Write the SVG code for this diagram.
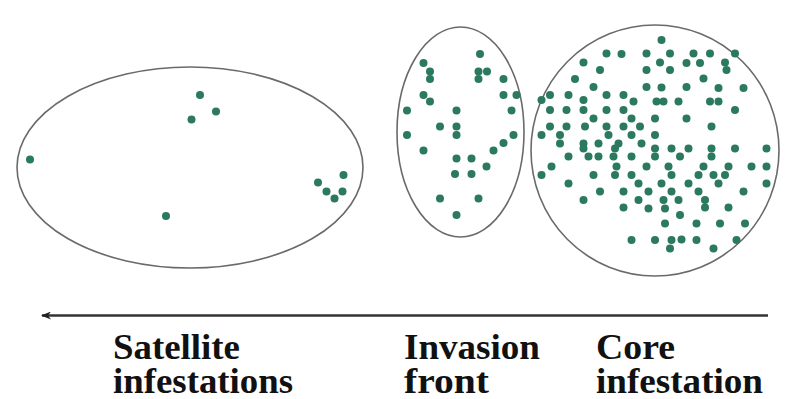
<svg xmlns="http://www.w3.org/2000/svg" width="786" height="399" viewBox="0 0 786 399">
<style>
.outline{fill:none;stroke:#6a6a6a;stroke-width:1.6}
.dots circle{fill:#2b7a60}
.lbl{font-family:'Liberation Serif','DejaVu Serif','Times New Roman',serif;font-weight:700;font-size:36px;fill:#111}
</style>
<defs>
<marker id="ah" viewBox="0 0 10 8" refX="9" refY="4" markerWidth="10" markerHeight="8" markerUnits="userSpaceOnUse" orient="auto">
<path d="M0,0 L10,4 L0,8 L3,4 Z" fill="#222"/>
</marker>
</defs>
<rect width="786" height="399" fill="#fff"/>
<g id="satellite">
<ellipse class="outline" cx="190" cy="167.5" rx="173" ry="100.5"/>
<g class="dots">
<circle cx="200" cy="95" r="4"/><circle cx="216" cy="111.5" r="4"/><circle cx="191.5" cy="119.5" r="4"/>
<circle cx="30" cy="159.5" r="4"/><circle cx="166" cy="216" r="4"/>
<circle cx="318" cy="182.5" r="4"/><circle cx="343.5" cy="175" r="4"/><circle cx="326.5" cy="191.5" r="4"/><circle cx="342.5" cy="191.5" r="4"/><circle cx="334.5" cy="198.5" r="4"/>
</g>
</g>
<g id="front">
<ellipse class="outline" cx="460.5" cy="132" rx="63.5" ry="105"/>
<g class="dots">
<circle cx="480" cy="54" r="4"/><circle cx="423.5" cy="63" r="4"/><circle cx="430" cy="71.5" r="4"/><circle cx="430" cy="79" r="4"/>
<circle cx="478.5" cy="71.5" r="4"/><circle cx="487" cy="71.5" r="4"/><circle cx="478.5" cy="79" r="4"/><circle cx="503.5" cy="79" r="4"/>
<circle cx="423.5" cy="95" r="4"/><circle cx="430" cy="101.5" r="4"/><circle cx="503.5" cy="95" r="4"/><circle cx="516.5" cy="95" r="4"/>
<circle cx="407" cy="110.5" r="4"/><circle cx="456.5" cy="110.5" r="4"/><circle cx="511.5" cy="110.5" r="4"/>
<circle cx="440" cy="126.5" r="4"/><circle cx="456.5" cy="126.5" r="4"/><circle cx="456.5" cy="135" r="4"/>
<circle cx="407" cy="135" r="4"/><circle cx="513.5" cy="135" r="4"/><circle cx="503.5" cy="143" r="4"/><circle cx="493.5" cy="150.5" r="4"/>
<circle cx="423.5" cy="150.5" r="4"/><circle cx="456.5" cy="158.5" r="4"/><circle cx="471.5" cy="158.5" r="4"/><circle cx="486.5" cy="166.5" r="4"/>
<circle cx="455" cy="174" r="4"/><circle cx="471.5" cy="174" r="4"/><circle cx="440" cy="198.5" r="4"/><circle cx="478.5" cy="198.5" r="4"/>
<circle cx="456.5" cy="215" r="4"/>
</g>
</g>
<g id="core">
<ellipse class="outline" cx="655" cy="150.5" rx="124" ry="125.5"/>
<g class="dots">
<circle cx="661.5" cy="40" r="4"/>
<circle cx="606.5" cy="53.5" r="4"/><circle cx="621.5" cy="54" r="4"/><circle cx="646.5" cy="53.5" r="4"/><circle cx="670" cy="53.5" r="4"/><circle cx="693.5" cy="53.5" r="4"/><circle cx="710" cy="53.5" r="4"/><circle cx="735" cy="53.5" r="4"/>
<circle cx="583.5" cy="62.5" r="4"/><circle cx="660" cy="62.5" r="4"/><circle cx="686.5" cy="63" r="4"/><circle cx="700" cy="63" r="4"/><circle cx="725" cy="62.5" r="4"/>
<circle cx="600" cy="70" r="4"/><circle cx="646.5" cy="70" r="4"/><circle cx="670" cy="70" r="4"/><circle cx="726.5" cy="70" r="4"/>
<circle cx="575" cy="79" r="4"/><circle cx="703.5" cy="78.5" r="4"/>
<circle cx="593.5" cy="87" r="4"/><circle cx="646.5" cy="87" r="4"/><circle cx="661.5" cy="87.5" r="4"/><circle cx="686.5" cy="87" r="4"/><circle cx="718.5" cy="88" r="4"/><circle cx="743.5" cy="88" r="4"/>
<circle cx="550" cy="95" r="4"/><circle cx="568.5" cy="95" r="4"/><circle cx="606.5" cy="95" r="4"/><circle cx="623.5" cy="95" r="4"/>
<circle cx="541.5" cy="100" r="4"/><circle cx="583.5" cy="100" r="4"/>
<circle cx="633.5" cy="101.5" r="4"/><circle cx="656.5" cy="101.5" r="4"/><circle cx="663.5" cy="101.5" r="4"/><circle cx="678.5" cy="101.5" r="4"/><circle cx="710" cy="101.5" r="4"/><circle cx="718.5" cy="101.5" r="4"/>
<circle cx="550" cy="110" r="4"/><circle cx="566.5" cy="110" r="4"/><circle cx="583.5" cy="110" r="4"/><circle cx="606.5" cy="110" r="4"/><circle cx="623.5" cy="110" r="4"/><circle cx="735" cy="110" r="4"/>
<circle cx="593.5" cy="118.5" r="4"/><circle cx="631.5" cy="118.5" r="4"/><circle cx="655" cy="118.5" r="4"/><circle cx="686.5" cy="118.5" r="4"/>
<circle cx="550" cy="126.5" r="4"/><circle cx="566.5" cy="126.5" r="4"/><circle cx="585" cy="126.5" r="4"/><circle cx="606.5" cy="126.5" r="4"/><circle cx="623.5" cy="126.5" r="4"/><circle cx="640" cy="126.5" r="4"/><circle cx="711.5" cy="126.5" r="4"/>
<circle cx="541.5" cy="135" r="4"/><circle cx="560" cy="135" r="4"/><circle cx="608.5" cy="135" r="4"/><circle cx="631.5" cy="135" r="4"/><circle cx="655" cy="135" r="4"/>
<circle cx="560" cy="143.5" r="4"/><circle cx="583.5" cy="143.5" r="4"/><circle cx="598.5" cy="143.5" r="4"/><circle cx="618.5" cy="143.5" r="4"/><circle cx="641.5" cy="143.5" r="4"/>
<circle cx="583.5" cy="148.5" r="4"/><circle cx="615" cy="148.5" r="4"/><circle cx="655" cy="148.5" r="4"/><circle cx="671.5" cy="148.5" r="4"/><circle cx="688.5" cy="148.5" r="4"/><circle cx="711.5" cy="148.5" r="4"/><circle cx="735" cy="148.5" r="4"/><circle cx="766.5" cy="148.5" r="4"/>
<circle cx="568.5" cy="156.5" r="4"/><circle cx="588.5" cy="156.5" r="4"/><circle cx="598.5" cy="156.5" r="4"/><circle cx="613.5" cy="156.5" r="4"/><circle cx="631.5" cy="156.5" r="4"/><circle cx="655" cy="156.5" r="4"/><circle cx="680" cy="156.5" r="4"/><circle cx="711.5" cy="156.5" r="4"/>
<circle cx="551.5" cy="166.5" r="4"/><circle cx="616.5" cy="166.5" r="4"/><circle cx="646.5" cy="166.5" r="4"/><circle cx="668.5" cy="166.5" r="4"/><circle cx="703.5" cy="166.5" r="4"/><circle cx="728.5" cy="166.5" r="4"/><circle cx="751.5" cy="166.5" r="4"/><circle cx="766.5" cy="166.5" r="4"/>
<circle cx="541.5" cy="175" r="4"/><circle cx="593.5" cy="175" r="4"/><circle cx="615" cy="175" r="4"/><circle cx="631.5" cy="175" r="4"/><circle cx="671.5" cy="175" r="4"/><circle cx="698.5" cy="175" r="4"/><circle cx="713.5" cy="175" r="4"/><circle cx="725" cy="175" r="4"/>
<circle cx="568.5" cy="183.5" r="4"/><circle cx="638.5" cy="183.5" r="4"/><circle cx="661.5" cy="183.5" r="4"/><circle cx="688.5" cy="183.5" r="4"/><circle cx="718.5" cy="183.5" r="4"/><circle cx="766.5" cy="183.5" r="4"/>
<circle cx="600" cy="191.5" r="4"/><circle cx="623.5" cy="191.5" r="4"/><circle cx="648.5" cy="191.5" r="4"/><circle cx="671.5" cy="191.5" r="4"/><circle cx="698.5" cy="191.5" r="4"/><circle cx="743.5" cy="191.5" r="4"/>
<circle cx="583.5" cy="200" r="4"/><circle cx="638.5" cy="200" r="4"/><circle cx="663.5" cy="200" r="4"/><circle cx="678.5" cy="200" r="4"/><circle cx="705" cy="200" r="4"/>
<circle cx="623.5" cy="207.5" r="4"/><circle cx="648.5" cy="208.5" r="4"/><circle cx="665" cy="208.5" r="4"/><circle cx="705" cy="207.5" r="4"/><circle cx="728.5" cy="207.5" r="4"/>
<circle cx="680" cy="215" r="4"/>
<circle cx="665" cy="223.5" r="4"/><circle cx="696.5" cy="223.5" r="4"/><circle cx="720" cy="223.5" r="4"/><circle cx="745" cy="223.5" r="4"/>
<circle cx="631.5" cy="240" r="4"/><circle cx="655" cy="240" r="4"/><circle cx="671.5" cy="240" r="4"/><circle cx="681.5" cy="239.5" r="4"/><circle cx="696.5" cy="240" r="4"/><circle cx="736.5" cy="240" r="4"/>
<circle cx="670" cy="248.5" r="4"/><circle cx="713.5" cy="248.5" r="4"/>
</g>
</g>
<g id="connectors">
<line x1="768" y1="315.5" x2="42" y2="315.5" stroke="#333" stroke-width="2.4" marker-end="url(#ah)"/>
</g>
<g id="labels">
<text class="lbl" x="113" y="359" textLength="127" lengthAdjust="spacingAndGlyphs">Satellite</text>
<text class="lbl" x="113" y="393" textLength="180" lengthAdjust="spacingAndGlyphs">infestations</text>
<text class="lbl" x="404" y="359" textLength="136" lengthAdjust="spacingAndGlyphs">Invasion</text>
<text class="lbl" x="404" y="393" textLength="85" lengthAdjust="spacingAndGlyphs">front</text>
<text class="lbl" x="596" y="359" textLength="79" lengthAdjust="spacingAndGlyphs">Core</text>
<text class="lbl" x="596" y="393" textLength="167" lengthAdjust="spacingAndGlyphs">infestation</text>
</g>
</svg>
